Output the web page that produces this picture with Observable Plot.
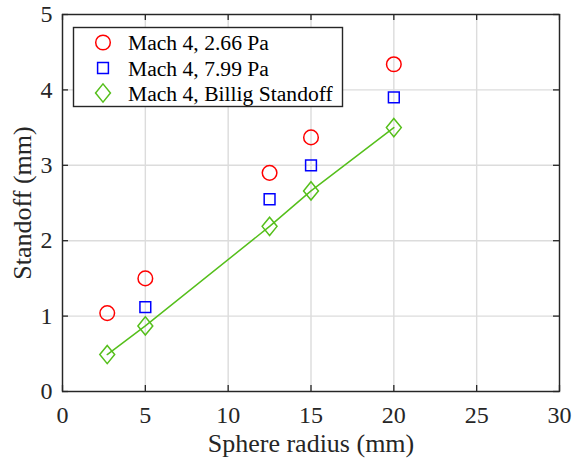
<!DOCTYPE html>
<html>
<head>
<meta charset="utf-8">
<script src="https://cdn.jsdelivr.net/npm/d3@7"></script>
<script src="https://cdn.jsdelivr.net/npm/@observablehq/plot@0.6"></script>
<style>
  html, body { margin: 0; padding: 0; background: #fff; }
  #wrap { position: relative; width: 573px; height: 459px; font-family: "Liberation Serif", "DejaVu Serif", serif; }
  #wrap svg, #wrap svg text { font-family: "Liberation Serif", "DejaVu Serif", serif !important; }
  #legend { position: absolute; left: 0; top: 0; }
</style>
</head>
<body>
<div id="wrap"></div>
<script>
// ---- data ----
const radiusRed = [2.7, 5, 12.5, 15, 20];
const standoffRed = [1.04, 1.50, 2.90, 3.37, 4.34];      // Mach 4, 2.66 Pa
const radiusBlue = [5, 12.5, 15, 20];
const standoffBlue = [1.12, 2.55, 3.00, 3.90];            // Mach 4, 7.99 Pa
const radiusGreen = [2.7, 5, 12.5, 15, 20];
const standoffGreen = [0.49, 0.87, 2.19, 2.66, 3.50];     // Mach 4, Billig Standoff
const seriesNames = ["Mach 4, 2.66 Pa", "Mach 4, 7.99 Pa", "Mach 4, Billig Standoff"];
const xTicks = [0, 5, 10, 15, 20, 25, 30];
const yTicks = [0, 1, 2, 3, 4, 5];
const xLabel = "Sphere radius (mm)";
const yLabel = "Standoff (mm)";

const red = "#ff0000", blue = "#0000ff", green = "#55bf1b", axisCol = "#262626";
const FONT = '"Liberation Serif", "DejaVu Serif", serif';

const red_ = radiusRed.map((x, i) => ({x, y: standoffRed[i]}));
const blue_ = radiusBlue.map((x, i) => ({x, y: standoffBlue[i]}));
const green_ = radiusGreen.map((x, i) => ({x, y: standoffGreen[i]}));

// custom symbols
const symCircle = {draw(ctx, size) { const r = Math.sqrt(size / Math.PI); ctx.moveTo(r, 0); ctx.arc(0, 0, r, 0, 2 * Math.PI); }};
const symSquare = {draw(ctx, size) { const r = Math.sqrt(size / Math.PI) * 0.74; ctx.rect(-r, -r, 2 * r, 2 * r); }};
const symDiamond = {draw(ctx, size) { const r = Math.sqrt(size / Math.PI); const w = r * 1.02, h = r * 1.25; ctx.moveTo(0, -h); ctx.lineTo(w, 0); ctx.lineTo(0, h); ctx.lineTo(-w, 0); ctx.closePath(); }};

const W = 573, H = 459, mL = 62, mR = 14, mT = 14, mB = 68;
const fw = W - mL - mR, fh = H - mT - mB;
const tick = 6;

const chart = Plot.plot({
  width: W, height: H,
  marginLeft: mL, marginRight: mR, marginTop: mT, marginBottom: mB,
  style: {fontFamily: FONT, color: axisCol, background: "#fff", fontSize: "24px"},
  x: {domain: [0, 30]},
  y: {domain: [0, 5]},
  marks: [
    Plot.gridX(xTicks, {stroke: "#dcdcdc", strokeOpacity: 1, strokeWidth: 1.4}),
    Plot.gridY(yTicks, {stroke: "#dcdcdc", strokeOpacity: 1, strokeWidth: 1.4}),
    Plot.axisX(xTicks, {tickSize: 0, tickPadding: 14.5, fontSize: 24, tickFormat: "d", label: null, fill: axisCol}),
    Plot.axisY(yTicks, {tickSize: 0, tickPadding: 10, fontSize: 24, tickFormat: "d", label: null, fill: axisCol}),
    Plot.text([xLabel], {text: d => d, frameAnchor: "bottom", textAnchor: "middle", lineAnchor: "middle", dy: 52.5, fontSize: 26, fill: axisCol}),
    Plot.text([yLabel], {text: d => d, frameAnchor: "left", textAnchor: "middle", lineAnchor: "middle", dx: -40, rotate: -90, fontSize: 26, fill: axisCol}),
    // inward ticks
    Plot.gridX(xTicks, {stroke: axisCol, strokeOpacity: 1, strokeWidth: 1.3, insetTop: fh - tick}),
    Plot.gridX(xTicks, {stroke: axisCol, strokeOpacity: 1, strokeWidth: 1.3, insetBottom: fh - tick}),
    Plot.gridY(yTicks, {stroke: axisCol, strokeOpacity: 1, strokeWidth: 1.3, insetRight: fw - tick}),
    Plot.gridY(yTicks, {stroke: axisCol, strokeOpacity: 1, strokeWidth: 1.3, insetLeft: fw - tick}),
    Plot.frame({stroke: axisCol, strokeWidth: 1.4}),
    Plot.line(green_, {x: "x", y: "y", stroke: green, strokeWidth: 1.5}),
    Plot.dot(red_, {x: "x", y: "y", r: 7.3, symbol: symCircle, stroke: red, strokeWidth: 1.5, fill: "none"}),
    Plot.dot(blue_, {x: "x", y: "y", r: 7.3, symbol: symSquare, stroke: blue, strokeWidth: 1.5, fill: "none"}),
    Plot.dot(green_, {x: "x", y: "y", r: 7.3, symbol: symDiamond, stroke: green, strokeWidth: 1.5, fill: "none"})
  ]
});
const wrap = document.getElementById("wrap");
wrap.appendChild(chart);

// legend overlay
const ns = "http://www.w3.org/2000/svg";
const lg = document.createElementNS(ns, "svg");
lg.setAttribute("id", "legend");
lg.setAttribute("width", W);
lg.setAttribute("height", 120);
lg.style.pointerEvents = "none";
const box = document.createElementNS(ns, "rect");
box.setAttribute("x", 73.5); box.setAttribute("y", 27.5);
box.setAttribute("width", 269); box.setAttribute("height", 79);
box.setAttribute("fill", "#fff"); box.setAttribute("stroke", axisCol); box.setAttribute("stroke-width", 1.4);
lg.appendChild(box);
const cols = [red, blue, green];
const syms = [symCircle, symSquare, symDiamond];
const rowsY = [42.5, 68, 93];
seriesNames.forEach((name, i) => {
  const p = d3.path();
  syms[i].draw(p, Math.PI * 7.3 * 7.3);
  const path = document.createElementNS(ns, "path");
  path.setAttribute("d", p.toString());
  path.setAttribute("transform", `translate(103,${rowsY[i]})`);
  path.setAttribute("fill", "none"); path.setAttribute("stroke", cols[i]); path.setAttribute("stroke-width", 1.5);
  lg.appendChild(path);
  const t = document.createElementNS(ns, "text");
  t.setAttribute("x", 128); t.setAttribute("y", rowsY[i]);
  t.setAttribute("dy", "0.35em");
  t.setAttribute("font-size", 21.6);
  t.setAttribute("fill", "#000");
  t.textContent = name;
  lg.appendChild(t);
});
wrap.appendChild(lg);
</script>
</body>
</html>
